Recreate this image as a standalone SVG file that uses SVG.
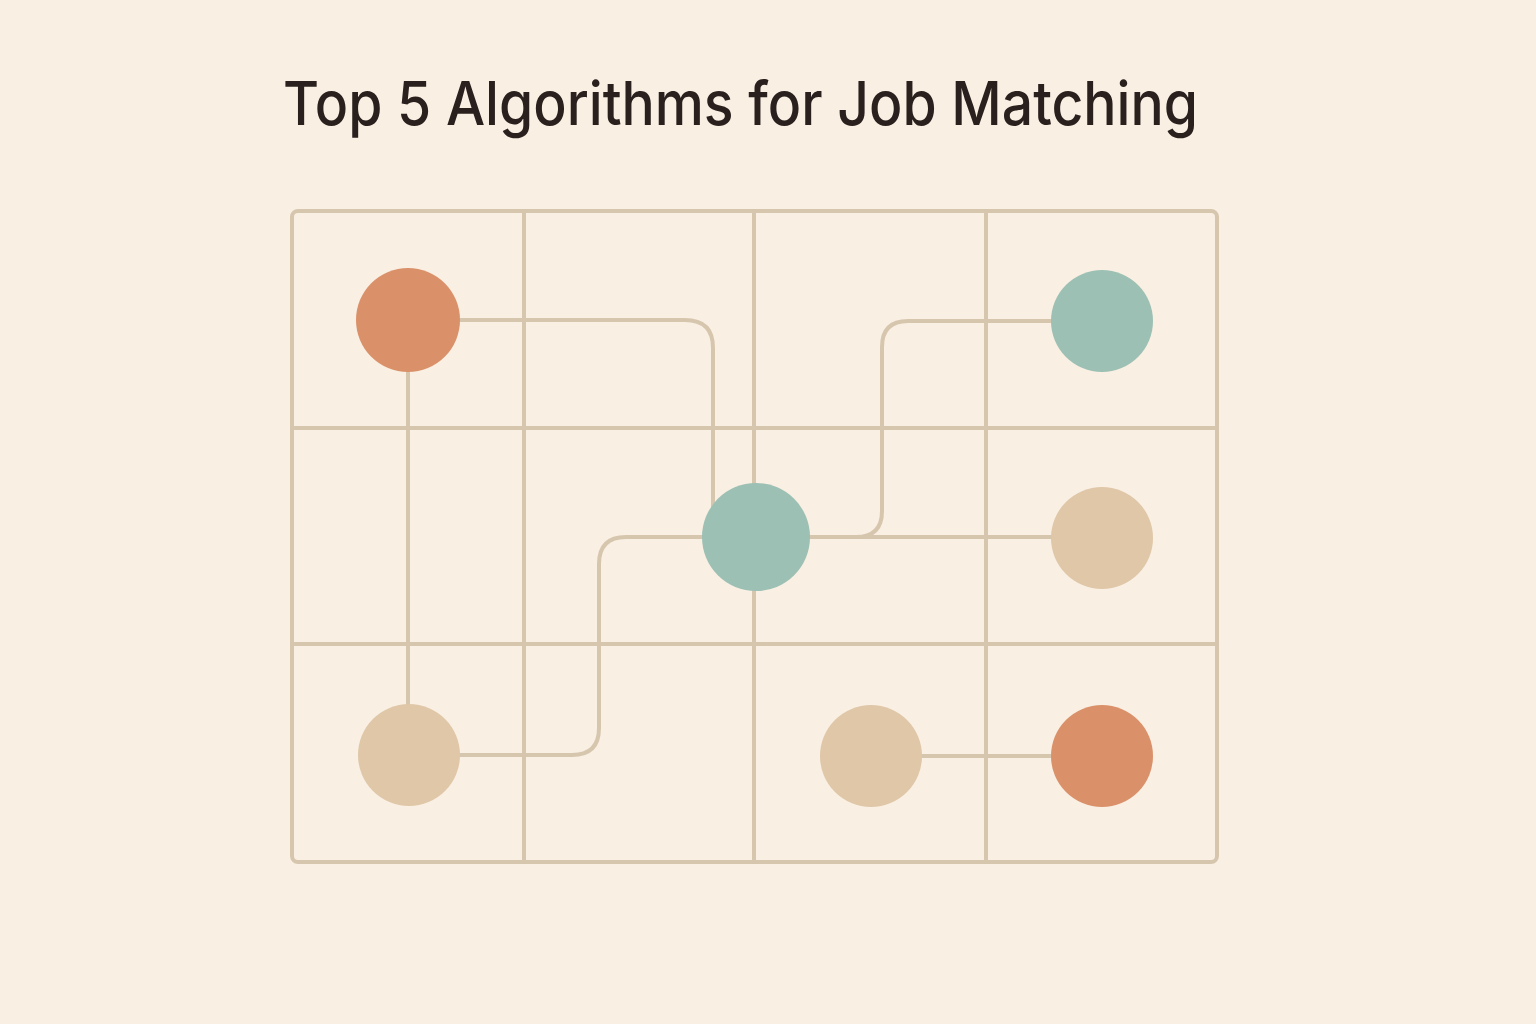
<svg xmlns="http://www.w3.org/2000/svg" width="1536" height="1024" viewBox="0 0 1536 1024">
<style>
.grid{fill:none;stroke:#d6c6ae;stroke-width:4;stroke-linecap:round}
.conn{fill:none;stroke:#d6c6ae;stroke-width:4;stroke-linejoin:round}
.orange{fill:#da9169}
.teal{fill:#9dc0b4}
.beige{fill:#dfc7a8}
.title{font-family:Inter,"Liberation Sans",Arial,sans-serif;font-weight:500;font-size:61px;fill:#2a201d}
</style>
<rect width="1536" height="1024" fill="#f9efe3"/>
<text class="title" x="283" y="125" textLength="915" lengthAdjust="spacingAndGlyphs">Top 5 Algorithms for Job Matching</text>
<g id="grid">
<rect class="grid" x="292" y="211" width="925" height="651" rx="6"/>
<line class="grid" x1="524" y1="211" x2="524" y2="862"/>
<line class="grid" x1="754" y1="211" x2="754" y2="862"/>
<line class="grid" x1="986" y1="211" x2="986" y2="862"/>
<line class="grid" x1="292" y1="428" x2="1217" y2="428"/>
<line class="grid" x1="292" y1="644" x2="1217" y2="644"/>
</g>
<g id="connectors">
<path class="conn" d="M408,320 H685 Q713,320 713,348 V537"/>
<path class="conn" d="M408,320 V755"/>
<path class="conn" d="M409,755 H572 Q599,755 599,728 V564 Q599,537 626,537 H756"/>
<path class="conn" d="M756,537 H1102"/>
<path class="conn" d="M800,537 H856 Q882,537 882,511 V347 Q882,321 908,321 H1102"/>
<path class="conn" d="M871,756 H1102"/>
</g>
<g id="node-a"><circle class="orange" cx="408" cy="320" r="52"/></g>
<g id="node-b"><circle class="teal" cx="1102" cy="321" r="51"/></g>
<g id="node-c"><circle class="teal" cx="756" cy="537" r="54"/></g>
<g id="node-d"><circle class="beige" cx="1102" cy="538" r="51"/></g>
<g id="node-e"><circle class="beige" cx="409" cy="755" r="51"/></g>
<g id="node-f"><circle class="beige" cx="871" cy="756" r="51"/></g>
<g id="node-g"><circle class="orange" cx="1102" cy="756" r="51"/></g>
</svg>
